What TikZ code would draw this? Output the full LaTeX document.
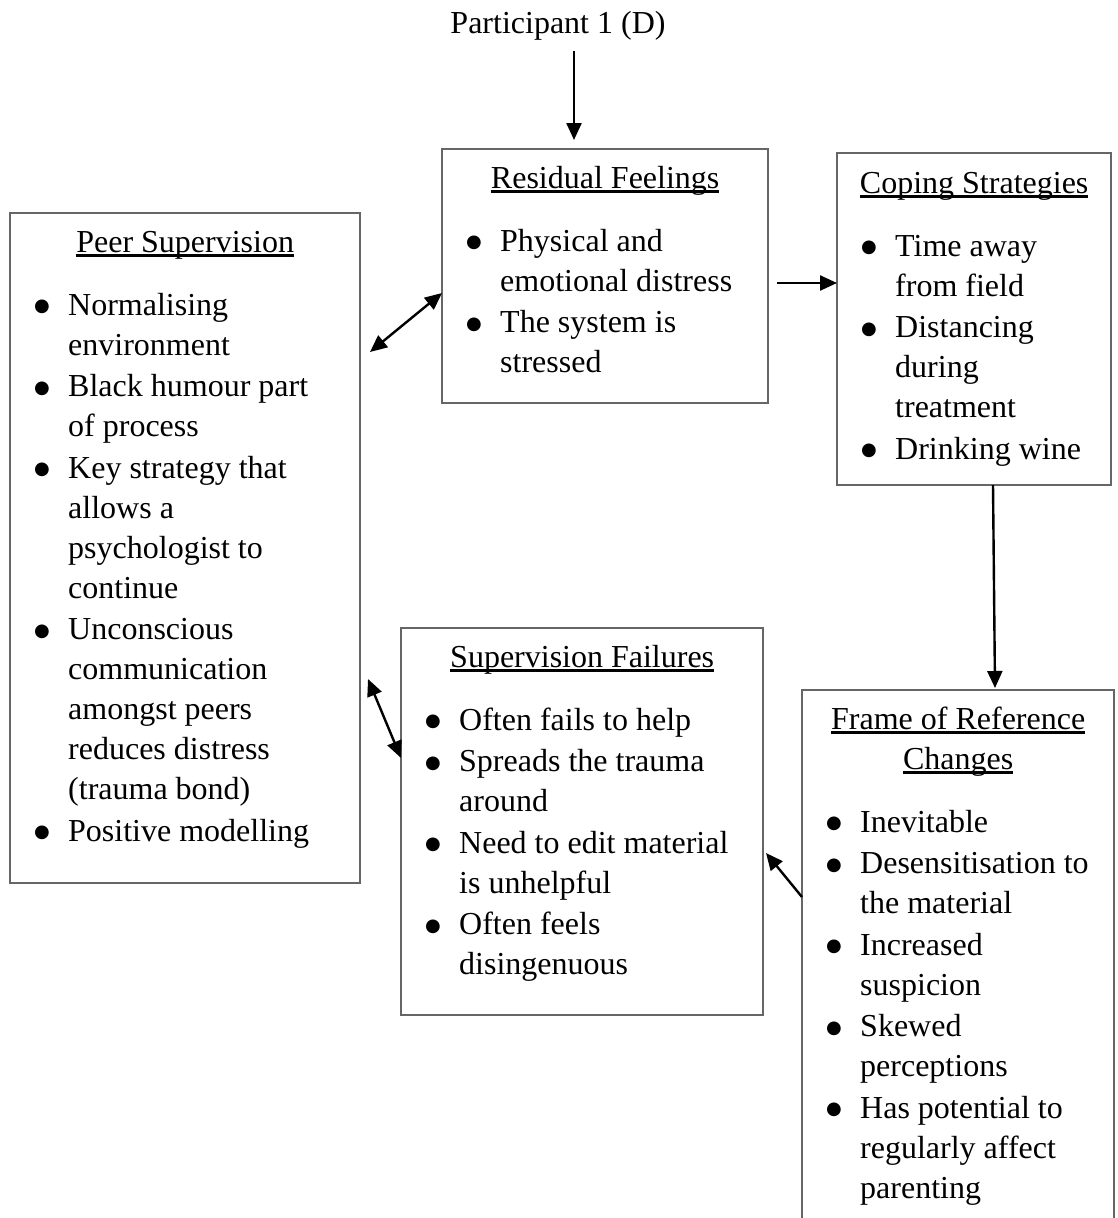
\documentclass[tikz,border=0pt]{standalone}
\usepackage{fontspec}
\setmainfont{Liberation Serif}
\newfontfamily\dotfont{DejaVu Sans}
\usetikzlibrary{arrows.meta}

% underlined box heading and bullet item
\newcommand\ttl[1]{\setbox0\hbox{#1}\leavevmode\rlap{\rule[-4.5pt]{\wd0}{2.2pt}}\box0}
\newcommand\blt{\raisebox{3.5pt}{\dotfont\fontsize{18}{18}\selectfont ●}}
\newcommand\itm[1]{\par\noindent\hangindent=58pt\hangafter=1\hspace*{24pt}\makebox[34pt][l]{\blt}#1}

\tikzset{
  box/.style={draw=black!60, line width=1.5pt, inner sep=0pt, outer sep=0pt, anchor=north west},
  txt/.style={font=\fontsize{32}{40}\selectfont, inner sep=0pt, anchor=base west},
  arr/.style={-{Triangle[length=17pt,width=15pt]}, line width=2.4pt},
  dblarr/.style={{Triangle[length=17pt,width=15pt]}-{Triangle[length=17pt,width=15pt]}, line width=2.4pt}
}

\begin{document}
\begin{tikzpicture}[x=1pt,y=-1pt]
            \useasboundingbox (0,0) rectangle (1117,1218);
            \clip (0,0) rectangle (1117,1218);
            %Cajas
            \node[txt, anchor=base] (part) at (558,33) {Participant 1 (D)};
            \node[box, minimum width=326pt, minimum height=254pt] (resid) at (442,149) {};
            \node[box, minimum width=274pt, minimum height=332pt] (coping) at (837,153) {};
            \node[box, minimum width=350pt, minimum height=670pt] (peer) at (10,213) {};
            \node[box, minimum width=362pt, minimum height=387pt] (super) at (401,628) {};
            \node[box, minimum width=312pt, minimum height=560pt] (frame) at (802,690) {};
            %Textos
            \node[txt] (residlist) at (442,188) {\begin{minipage}[t]{326pt}\setlength\parskip{1.5pt}
              {\centering\ttl{Residual Feelings}\par}\vspace{21.5pt}\raggedright
              \itm{Physical and\newline emotional distress}
              \itm{The system is\newline stressed}\end{minipage}};
            \node[txt] (copinglist) at (837,193) {\begin{minipage}[t]{274pt}\setlength\parskip{1.5pt}
              {\centering\ttl{Coping Strategies}\par}\vspace{21.5pt}\raggedright
              \itm{Time away\newline from field}
              \itm{Distancing\newline during\newline treatment}
              \itm{Drinking wine}\end{minipage}};
            \node[txt] (peerlist) at (10,252) {\begin{minipage}[t]{350pt}\setlength\parskip{1.5pt}
              {\centering\ttl{Peer Supervision}\par}\vspace{21.5pt}\raggedright
              \itm{Normalising\newline environment}
              \itm{Black humour part\newline of process}
              \itm{Key strategy that\newline allows a\newline psychologist to\newline continue}
              \itm{Unconscious\newline communication\newline amongst peers\newline reduces distress\newline (trauma bond)}
              \itm{Positive modelling}\end{minipage}};
            \node[txt] (superlist) at (401,667) {\begin{minipage}[t]{362pt}\setlength\parskip{1.5pt}
              {\centering\ttl{Supervision Failures}\par}\vspace{21.5pt}\raggedright
              \itm{Often fails to help}
              \itm{Spreads the trauma\newline around}
              \itm{Need to edit material\newline is unhelpful}
              \itm{Often feels\newline disingenuous}\end{minipage}};
            \node[txt] (framelist) at (802,729) {\begin{minipage}[t]{312pt}\setlength\parskip{1.5pt}
              {\centering\ttl{Frame of Reference}\\ \ttl{Changes}\par}\vspace{21.5pt}\raggedright
              \itm{Inevitable}
              \itm{Desensitisation to\newline the material}
              \itm{Increased\newline suspicion}
              \itm{Skewed\newline perceptions}
              \itm{Has potential to\newline regularly affect\newline parenting}\end{minipage}};
            %Flechas
            \draw[arr] ([xshift=16pt,yshift=-11pt]part.south) -- ([xshift=-31pt,yshift=9pt]resid.north);
            \draw[dblarr] ([xshift=10pt,yshift=196pt]peer.east) -- ([yshift=-17pt]resid.west);
            \draw[arr] ([xshift=9pt,yshift=-7pt]resid.east) -- ([yshift=36pt]coping.west);
            \draw[arr] ([xshift=19pt]coping.south) -- ([xshift=37pt,yshift=2pt]frame.north);
            \draw[dblarr] ([xshift=8pt,yshift=-131pt]peer.east) -- ([yshift=63.5pt]super.west);
            \draw[arr] ([yshift=73pt]frame.west) -- ([xshift=3pt,yshift=-31.5pt]super.east);
        \end{tikzpicture}
\end{document}
